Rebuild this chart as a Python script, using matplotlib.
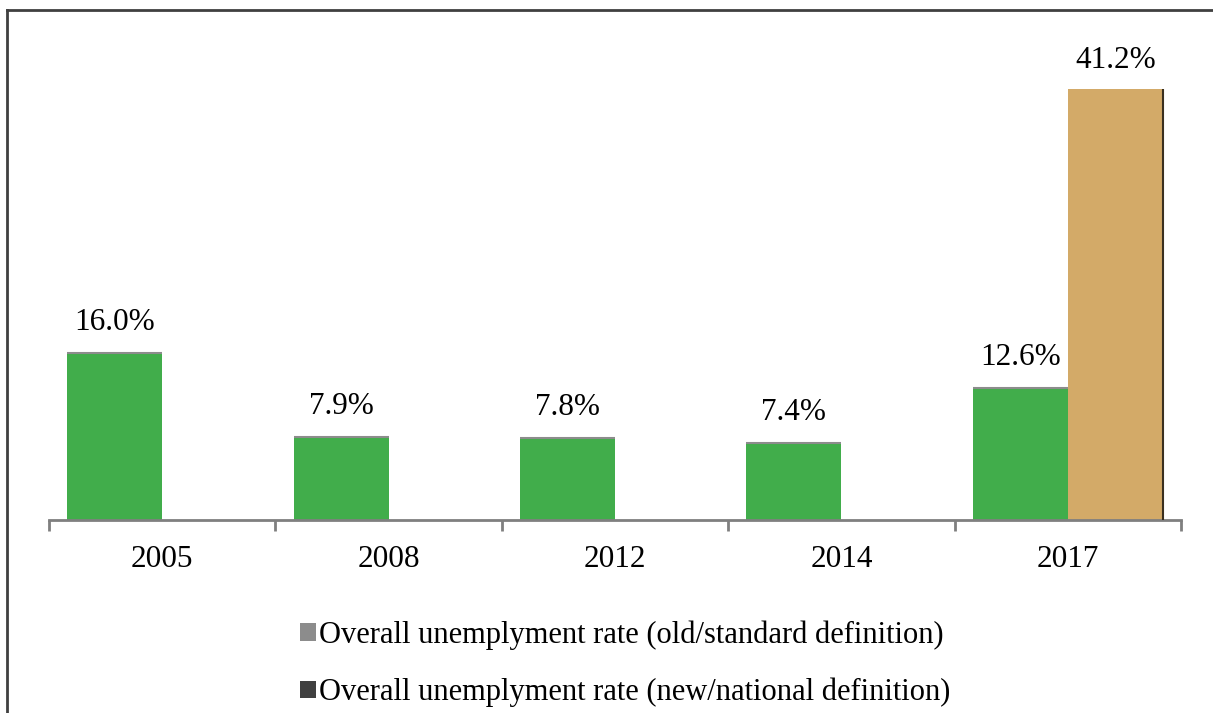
import numpy as np
import matplotlib
matplotlib.use("Agg")
import matplotlib.pyplot as plt
from matplotlib.patches import Patch
from matplotlib.lines import Line2D

# Survey years and unemployment rates (%)
years = ["2005", "2008", "2012", "2014", "2017"]
old_def = [16.0, 7.9, 7.8, 7.4, 12.6]
new_def = [np.nan, np.nan, np.nan, np.nan, 41.2]
legend_labels = [
    "Overall unemplyment rate (old/standard definition)",
    "Overall unemplyment rate (new/national definition)",
]

GREEN = "#41ad4b"
TAN = "#d3aa68"
AXIS_GREY = "#7f7f7f"
FS = 22.5

plt.rcParams["font.family"] = ["Liberation Serif", "DejaVu Serif"]

W, H = 1213, 713
fig = plt.figure(figsize=(W / 100, H / 100), dpi=100)

left_px, right_px, bottom_px, top_px = 49, 1181, 520, 10
ax = fig.add_axes([left_px / W, 1 - bottom_px / H,
                   (right_px - left_px) / W, (bottom_px - top_px) / H])

x = np.arange(len(years))
bw = 0.42
off = 0.21
ax.bar(x - off, old_def, width=bw, color=GREEN, zorder=2)
ax.bar(x + off, new_def, width=bw, color=TAN, zorder=2)

# thin edge highlights on the bars
ax.hlines(old_def, x - off - bw / 2, x - off + bw / 2, color="#8c8c8c", lw=1.5, zorder=3)
new_arr = np.array(new_def)
mask = ~np.isnan(new_arr)
ax.vlines(x[mask] + off + bw / 2, 0, new_arr[mask], color="#3a3020", lw=1.5, zorder=3)

# value labels
for xi, v in zip(x, old_def):
    ax.annotate(f"{v:.1f}%", (xi - off, v), xytext=(0, 11.5), textcoords="offset points",
                ha="center", va="bottom", fontsize=FS)
for xi, v in zip(x, new_def):
    if not np.isnan(v):
        ax.annotate(f"{v:.1f}%", (xi + off, v), xytext=(0, 10), textcoords="offset points",
                    ha="center", va="bottom", fontsize=FS)

pxpp = 10.46  # pixels per percentage point
ax.set_ylim(0, (bottom_px - top_px) / pxpp)
ax.set_xlim(-0.5, len(years) - 0.5)

for s in ["left", "right", "top"]:
    ax.spines[s].set_visible(False)
ax.spines["bottom"].set_color(AXIS_GREY)
ax.spines["bottom"].set_linewidth(2)
ax.set_yticks([])
ax.set_xticks(x)
ax.set_xticklabels(years, fontsize=FS)
ax.tick_params(axis="x", which="major", length=0, pad=18)
ax.set_xticks(np.arange(-0.5, len(years)), minor=True)
ax.tick_params(axis="x", which="minor", length=8, width=2, color=AXIS_GREY)

handles = [Patch(facecolor="#8c8c8c"), Patch(facecolor="#404040")]
fig.legend(handles, legend_labels, loc="upper left",
           bbox_to_anchor=(285 / W, 1 - 605 / H), frameon=False, fontsize=22,
           handlelength=0.5, handleheight=0.5, handletextpad=0.12,
           labelspacing=0.92, borderpad=0)

# outer frame (left and top edges)
fig.add_artist(Line2D([7 / W, 7 / W], [0, 1 - 10 / H], color="#404040", lw=2,
                      transform=fig.transFigure))
fig.add_artist(Line2D([7 / W, 1], [1 - 10 / H, 1 - 10 / H], color="#404040", lw=2,
                      transform=fig.transFigure))

fig.savefig("out.png", dpi=100)
